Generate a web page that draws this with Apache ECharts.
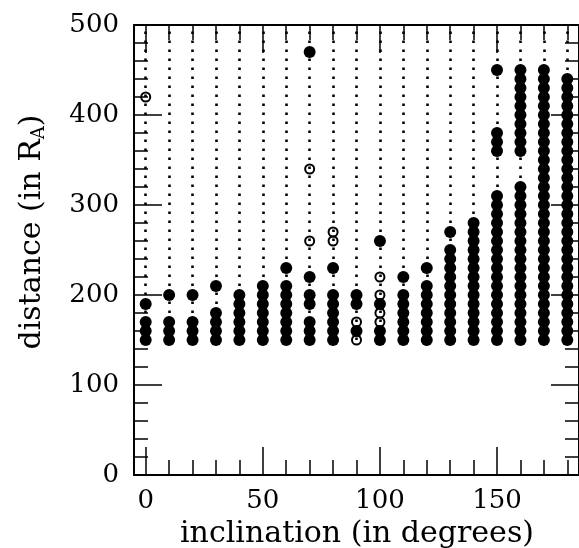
<!DOCTYPE html>
<html><head><meta charset="utf-8">
<script src="https://cdn.jsdelivr.net/npm/echarts@6/dist/echarts.min.js"></script>
<style>html,body{margin:0;padding:0;background:#fff}#c{width:579px;height:548px}</style>
</head><body><div id="c"></div>
<script>
// ---- data ----
const inclinations = [0,10,20,30,40,50,60,70,80,90,100,110,120,130,140,150,160,170,180];
const xMajorTicks = [0,50,100,150];
const xMinorTicks = [10,20,30,40,60,70,80,90,110,120,130,140,160,170,180];
const yMajorTicks = [0,100,200,300,400,500];
const yMinorTicks = [20,40,60,80,120,140,160,180,220,240,260,280,320,340,360,380,420,440,460,480];
const dottedFrom = 150;
const dottedTo = 500;

const filled_0   = [150,160,170,190];
const filled_10  = [150,160,170,200];
const filled_20  = [150,160,170,200];
const filled_30  = [150,160,170,180,210];
const filled_40  = [150,160,170,180,190,200];
const filled_50  = [150,160,170,180,190,200,210];
const filled_60  = [150,160,170,180,190,200,210,230];
const filled_70  = [150,160,170,190,200,220,470];
const filled_80  = [150,160,170,180,190,200,230];
const filled_90  = [160,190,200];
const filled_100 = [150,160,190,260];
const filled_110 = [150,160,170,180,190,200,220];
const filled_120 = [150,160,170,180,190,200,210,230];
const filled_130 = [150,160,170,180,190,200,210,220,230,240,250,270];
const filled_140 = [150,160,170,180,190,200,210,220,230,240,250,260,270,280];
const filled_150 = [150,160,170,180,190,200,210,220,230,240,250,260,270,280,290,300,310,360,370,380,450];
const filled_160 = [150,160,170,180,190,200,210,220,230,240,250,260,270,280,290,300,310,320,360,370,380,390,400,410,420,430,440,450];
const filled_170 = [150,160,170,180,190,200,210,220,230,240,250,260,270,280,290,300,310,320,330,340,350,360,370,380,390,400,410,420,430,440,450];
const filled_180 = [150,160,170,180,190,200,210,220,230,240,250,260,270,280,290,300,310,320,330,340,350,360,370,380,390,400,410,420,430,440];

const openPoints = [[0,420],[70,260],[70,340],[80,260],[80,270],[90,150],[90,170],[100,170],[100,180],[100,200],[100,220]];

const xTitle = 'inclination (in degrees)';
const yTitleMain = 'distance (in R';
const yTitleSub = 'A';

// ---- build ----
const filledColumns = [filled_0,filled_10,filled_20,filled_30,filled_40,filled_50,filled_60,filled_70,filled_80,filled_90,filled_100,filled_110,filled_120,filled_130,filled_140,filled_150,filled_160,filled_170,filled_180];
const filledData = [];
inclinations.forEach((x,i)=>filledColumns[i].forEach(y=>filledData.push([x,y])));
const dottedLines = inclinations.map(x=>[{coord:[x,dottedFrom]},{coord:[x,dottedTo]}]);

const FONT = 'DejaVu Serif';
const GRID = {left:134, top:25, width:452, height:450};
const stepPx = GRID.height/50; // pixel spacing of 10 distance units

function axisCommon(extra){
  return Object.assign({
    type:'value', min:-5, max:185, gridIndex:0,
    splitLine:{show:false},
    axisLine:{show:false, onZero:false},
    axisLabel:{show:false},
  }, extra);
}
const black = '#000';
const xAxes = [
  axisCommon({position:'bottom',
    axisLine:{show:true,onZero:false,lineStyle:{color:black,width:2}},
    axisTick:{show:true,inside:true,length:28,customValues:xMajorTicks,lineStyle:{color:black,width:1.5}},
    axisLabel:{show:true,customValues:xMajorTicks,color:black,fontFamily:FONT,fontSize:26,margin:13}}),
  axisCommon({position:'bottom',
    axisTick:{show:true,inside:true,length:15,customValues:xMinorTicks,lineStyle:{color:black,width:1.5}}}),
  axisCommon({position:'top',
    axisLine:{show:true,onZero:false,lineStyle:{color:black,width:2}},
    axisTick:{show:true,inside:true,length:28,customValues:xMajorTicks,lineStyle:{color:black,width:1.5}}}),
  axisCommon({position:'top',
    axisTick:{show:true,inside:true,length:15,customValues:xMinorTicks,lineStyle:{color:black,width:1.5}}}),
];
function yCommon(extra){
  return Object.assign({
    type:'value', min:0, max:500, gridIndex:0,
    splitLine:{show:false},
    axisLine:{show:false, onZero:false},
    axisLabel:{show:false},
  }, extra);
}
const yAxes = [
  yCommon({position:'left',
    axisLine:{show:true,onZero:false,lineStyle:{color:black,width:2}},
    axisTick:{show:true,inside:true,length:28,customValues:yMajorTicks,lineStyle:{color:black,width:1.5}},
    axisLabel:{show:true,customValues:yMajorTicks,color:black,fontFamily:FONT,fontSize:26,margin:15}}),
  yCommon({position:'left',
    axisTick:{show:true,inside:true,length:14,customValues:yMinorTicks,lineStyle:{color:black,width:1.5}}}),
  yCommon({position:'right',
    axisLine:{show:true,onZero:false,lineStyle:{color:black,width:2}},
    axisTick:{show:true,inside:true,length:28,customValues:yMajorTicks,lineStyle:{color:black,width:1.5}}}),
  yCommon({position:'right',
    axisTick:{show:true,inside:true,length:14,customValues:yMinorTicks,lineStyle:{color:black,width:1.5}}}),
];

const chart = echarts.init(document.getElementById('c'), null, {renderer:'canvas'});
chart.setOption({
  animation:false,
  backgroundColor:'#fff',
  grid:GRID,
  xAxis:xAxes,
  yAxis:yAxes,
  series:[
    {type:'scatter', data:[], z:1, silent:true,
     markLine:{silent:true, symbol:['none','none'], label:{show:false}, animation:false,
       lineStyle:{color:black, width:2.6, type:[2.6, stepPx-2.6], opacity:1},
       emphasis:{disabled:true},
       data:dottedLines}},
    {type:'scatter', data:filledData, z:3, silent:true, symbol:'circle', symbolSize:12,
     itemStyle:{color:black, opacity:1}},
    {type:'scatter', data:openPoints, z:4, silent:true, symbol:'circle', symbolSize:9,
     itemStyle:{color:'rgba(255,255,255,0)', borderColor:black, borderWidth:2, opacity:1}},
  ],
  graphic:[
    {type:'text', x:357, y:519,
     style:{text:xTitle, font:'30px "DejaVu Serif"', fill:black, align:'center', verticalAlign:'top'}},
    {type:'text', x:32, y:232, rotation:Math.PI/2,
     style:{text:'{m|'+yTitleMain+'}{s|'+yTitleSub+'}{m|)}', align:'center', verticalAlign:'middle', fill:black,
       rich:{m:{fontFamily:FONT,fontSize:30,fill:black,color:black},
             s:{fontFamily:FONT,fontSize:18,fill:black,color:black,padding:[14,0,0,0]}}}},
  ]
});
</script>
</body></html>
